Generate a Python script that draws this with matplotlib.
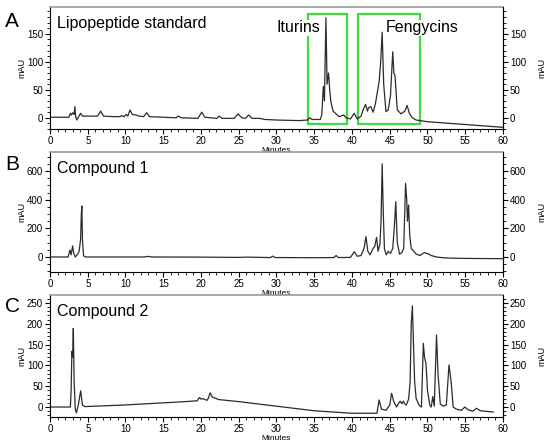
"""HPLC chromatograms: lipopeptide standard vs. compounds 1 and 2."""

import matplotlib
matplotlib.use("Agg")
import matplotlib.pyplot as plt
from matplotlib.patches import Rectangle
from matplotlib.ticker import MultipleLocator

plt.rcParams.update(
    {
        "font.family": ["Liberation Sans", "DejaVu Sans"],
        "font.size": 7,
        "xtick.direction": "out",
        "ytick.direction": "out",
        "xtick.major.size": 3.5,
        "ytick.major.size": 3.5,
        "xtick.minor.size": 2,
        "ytick.minor.size": 2,
        "xtick.major.pad": 1.5,
        "ytick.major.pad": 1.5,
        "axes.linewidth": 0.8,
    }
)

# --- traces (minutes, mAU) ---
std_time = [0, 2.5, 2.7, 2.85, 3.0, 3.2, 3.3, 3.4, 3.55, 3.8, 4.05, 4.3, 5.0,
            6.3, 6.7, 7.1, 8.5, 9.3, 9.5, 9.8, 10.1, 10.3, 10.6, 10.9, 11.4,
            11.8, 12.4, 12.8, 13.2, 15.0, 16.7, 17.0, 17.4, 19.6, 20.1, 20.5,
            22.1, 22.4, 22.8, 24.4, 24.9, 25.4, 25.9, 26.3, 26.8, 27.7, 28.5,
            30.0, 33.0, 34.1, 34.4, 34.7, 35.8, 36.0, 36.2, 36.35, 36.55, 36.7,
            36.9, 37.05, 37.2, 37.5, 37.8, 38.3, 38.9, 39.2, 39.8, 40.3, 40.7,
            41.2, 41.5, 41.8, 42.05, 42.2, 42.5, 42.8, 43.1, 43.3, 43.6, 43.8,
            44.0, 44.2, 44.5, 44.8, 45.1, 45.4, 45.55, 45.7, 46.0, 46.5, 47.0,
            47.3, 47.6, 48.0, 48.5, 50.0, 52.0, 55.0, 58.0, 60.0]
std_mau = [1, 1, 8, 5, 9, 6, 20, 2, -4, 2, 8, 3, 3,
           3, 12, 3, 2, 2, 4, 2, 6, 3, 14, 6, 5,
           3, 2, 9, 2, 1, 0, 3, 0, -1, 10, 1,
           -1, 3, -1, -1, 7, 0, -1, 5, -1, -1, -3,
           -4, -5, -4, 0, -3, -3, 5, 56, 30, 179, 60,
           80, 50, 29, 12, 8, 2, 5, 0, -2, 8, -2,
           3, 15, 24, 12, 18, 20, 10, 25, 41, 65, 100,
           153, 60, 11, 14, 40, 118, 80, 75, 14, 7, 12,
           22, 8, 0, -4, -7, -9, -12, -15, -17]

cpd1_time = [0, 2.4, 2.55, 2.65, 2.8, 3.0, 3.15, 3.35, 3.6, 3.85, 4.05, 4.15,
             4.22, 4.3, 4.45, 4.7, 5.0, 12.5, 13.0, 13.5, 20, 25, 26, 29.2,
             29.5, 29.8, 35, 37.6, 37.9, 38.2, 39.8, 40.3, 40.7, 41.2, 41.6,
             41.85, 42.1, 42.4, 42.8, 43.0, 43.26, 43.45, 43.7, 43.85, 44.0,
             44.15, 44.3, 44.55, 44.8, 45.1, 45.4, 45.6, 45.8, 46.0, 46.3, 46.6,
             46.85, 47.1, 47.25, 47.35, 47.5, 47.65, 47.85, 48.1, 48.5, 49.0,
             49.4, 49.6, 49.9, 50.2, 50.5, 51.2, 52.0, 53.0, 55.0, 60.0]
cpd1_mau = [0, 0, 30, 49, 15, 77, 25, 0, 15, 37, 120, 300,
            356, 120, 8, 0, 0, 0, 4, 0, -1, -3, -1, -4,
            6, -4, -5, -4, 10, -4, -3, 37, 5, 10, 60,
            142, 40, 15, 60, 72, 137, 40, 90, 250, 650,
            300, 55, 15, 40, 25, 60, 200, 386, 100, 20, 30,
            60, 514, 400, 250, 363, 150, 60, 45, 20, 10,
            25, 30, 25, 20, 10, 0, -5, -8, -10, -12]

cpd2_time = [0, 2.7, 2.8, 2.9, 3.0, 3.09, 3.2, 3.35, 3.5, 3.75, 4.06, 4.3, 4.6,
             10, 15, 18, 19.5, 19.8, 20.0, 20.3, 20.8, 21.0, 21.2, 21.5, 21.8,
             22.3, 25, 30, 35, 40, 43.3, 43.6, 43.9, 44.5, 45.0, 45.25, 45.5,
             45.9, 46.2, 46.4, 46.6, 46.8, 47.0, 47.2, 47.5, 47.7, 47.85, 48.0,
             48.15, 48.3, 48.5, 48.9, 49.2, 49.45, 49.6, 49.8, 50.0, 50.3, 50.5,
             50.7, 50.9, 51.05, 51.2, 51.4, 51.7, 52.1, 52.5, 52.85, 53.0,
             53.15, 53.4, 53.8, 54.5, 54.95, 55.4, 56.0, 56.5, 57.0, 58.7]
cpd2_mau = [0, 0, 40, 134, 120, 189, 60, -5, -14, 5, 39, 5, 1,
            5, 10, 13, 15, 23, 19, 20, 16, 22, 34, 24, 22,
            18, 13, 2, -9, -15, -15, 17, -5, -8, 5, 33, 15,
            0, 10, 14, 8, 14, 7, 5, 19, 60, 200, 243,
            149, 60, 20, 4, 0, 153, 120, 105, 40, 5, 0,
            25, 2, 90, 173, 78, 7, 2, 5, 101, 80,
            57, 0, -5, -8, 0, -7, -10, -3, -9, -12]

# bracketed retention windows in the standard (start, end, bottom, top)
iturin_window = [34.2, 39.4, -11, 186]
fengycin_window = [40.8, 49.0, -11, 186]

TRACE = "#2b2b2b"
GREEN = "#3fd83f"


def panel(fig, rect, t, y, ylim, yticks, yminor, title, letter, letter_y):
    ax = fig.add_axes(rect)
    ax.plot(t, y, color=TRACE, lw=0.9)
    ax.set_xlim(0, 60)
    ax.set_ylim(*ylim)
    ax.xaxis.set_major_locator(MultipleLocator(5))
    ax.xaxis.set_minor_locator(MultipleLocator(1))
    ax.set_yticks(yticks)
    ax.yaxis.set_minor_locator(MultipleLocator(yminor))
    ax.set_xlabel("Minutes", fontsize=6)
    ax.xaxis.set_label_coords(0.5, -0.15)
    ax.set_ylabel("mAU", fontsize=6.5)
    ax.yaxis.set_label_coords(-0.052, 0.5)
    ax.spines["top"].set_color("#9a9a9a")
    ax.spines["top"].set_linewidth(1.2)

    ax2 = ax.twinx()
    ax2.set_ylim(*ylim)
    ax2.set_yticks(yticks)
    ax2.yaxis.set_minor_locator(MultipleLocator(yminor))
    ax2.set_ylabel("mAU", fontsize=6.5)
    ax2.yaxis.set_label_coords(1.077, 0.5)
    for s in ("top", "left", "bottom"):
        ax2.spines[s].set_visible(False)

    ax.text(0.015, 0.925, title, transform=ax.transAxes, fontsize=11.5,
            va="top", ha="left")
    fig.text(0.022, letter_y, letter, fontsize=15, va="center", ha="center")
    return ax


fig = plt.figure(figsize=(5.5, 4.46), dpi=100)

ax_a = panel(fig, [0.0909, 0.7108, 0.8236, 0.2735], std_time, std_mau,
             (-20, 198), [0, 50, 100, 150], 10, "Lipopeptide standard",
             "A", 0.951)
for x0, x1, y0, y1 in (iturin_window, fengycin_window):
    ax_a.add_patch(Rectangle((x0, y0), x1 - x0, y1 - y0, fill=False,
                             ec=GREEN, lw=1.6, zorder=1))
ax_a.text(32.9, 161, "Iturins", fontsize=11.5, ha="center", va="center",
          zorder=3, bbox=dict(fc="white", ec="none", pad=0.5))
ax_a.text(49.3, 161, "Fengycins", fontsize=11.5, ha="center", va="center",
          zorder=3, bbox=dict(fc="white", ec="none", pad=0.5))

panel(fig, [0.0909, 0.3901, 0.8236, 0.2691], cpd1_time, cpd1_mau,
      (-105, 733), [0, 200, 400, 600], 50, "Compound 1", "B", 0.632)

panel(fig, [0.0909, 0.0650, 0.8236, 0.2735], cpd2_time, cpd2_mau,
      (-24, 269), [0, 50, 100, 150, 200, 250], 10, "Compound 2", "C", 0.312)

fig.savefig("out.png", dpi=100)
